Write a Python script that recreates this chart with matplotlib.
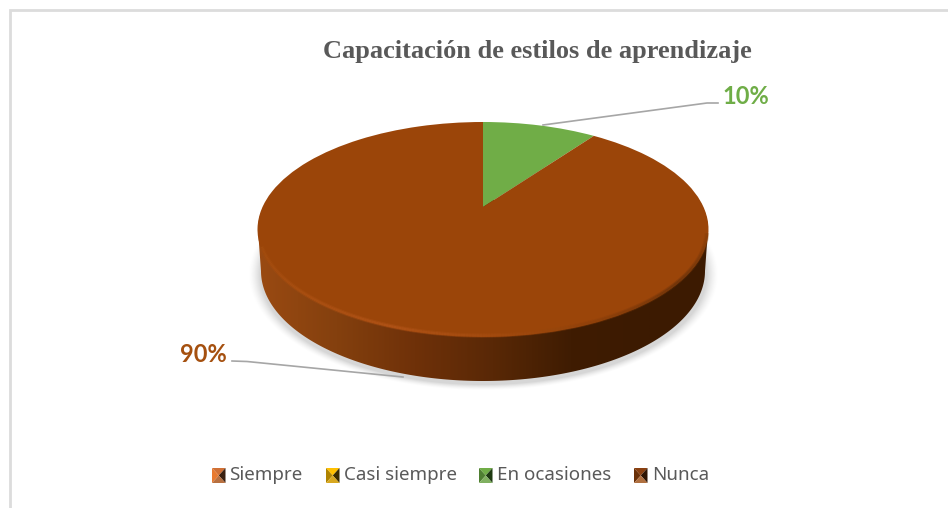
from matplotlib import pyplot as plt
from matplotlib.colors import LinearSegmentedColormap
from matplotlib.transforms import Transform
import numpy as np

# pie values and labels
categories = ['Siempre', 'Casi siempre', 'En ocasiones', 'Nunca']
values = [0, 0, 10, 90]
colors = ['#ED7D31', '#FFC000', '#70AD47', '#9B4509']
title = 'Capacitación de estilos de aprendizaje'


# the pie is tilted, so the centre of the circle sits above the centre of the ellipse
class Tilt(Transform):
    input_dims = 2
    output_dims = 2
    is_affine = False

    def transform_non_affine(self, values):
        u, v = np.asarray(values).T
        w = 1 + 0.2093 * v
        return np.column_stack([483 + 220.5 * u / w, (207 - 59.47 * v) / w])


fig = plt.figure(figsize=(9.48, 5.08), dpi=100)
ax = fig.add_axes([0, 0, 1, 1])

wedges, _ = ax.pie(values, colors=colors, startangle=90, counterclock=False, frame=True)
tilt = Tilt() + ax.transData
for w in wedges:
    w.set_transform(tilt)
    w.set_zorder(5)
    w.set_linewidth(0)

# soft shadow under the pie
yy, xx = np.mgrid[0:508, 0:948]
r = np.hypot((xx - 483) / 223, (yy - 274) / 110)
shadow = np.zeros((508, 948, 4))
shadow[..., :3] = 0.55
shadow[..., 3] = 0.36 * np.clip(1 - (r - 1) * 220 / 12, 0, 1) ** 1.5
ax.imshow(shadow, extent=(0, 948, 508, 0), aspect='auto', zorder=1)

# side wall of the pie, gradient clipped to its outline
t_low = np.linspace(np.pi, 0, 200)
t_up = np.linspace(0, np.pi, 200)
wall_x = np.r_[483 - 222 * np.cos(t_low), 483 - 225 * np.cos(t_up)]
wall_y = np.r_[271 + 110 * np.sin(t_low), 230 - 107 * np.sin(t_up)]
wall_cmap = LinearSegmentedColormap.from_list(
    'wall', ['#9a4a12', '#84400e', '#6f3109', '#592806', '#3f1c02', '#3c1a01'])
grad = np.linspace(0, 1, 256).reshape(1, -1)
wall = ax.imshow(grad, cmap=wall_cmap, extent=(258, 650, 400, 200), aspect='auto', zorder=2)
wall_right = ax.imshow(np.zeros((1, 2)), cmap=LinearSegmentedColormap.from_list('d', ['#3c1a01', '#3c1a01']),
                       extent=(650, 720, 400, 200), aspect='auto', zorder=2)
outline, = ax.fill(wall_x, wall_y, color='none', zorder=2)
wall.set_clip_path(outline)
wall_right.set_clip_path(outline)

# bevel along the front edge of the top face, a wide faint stroke and a narrower one
t = np.linspace(0.16, np.pi - 0.03, 240)
rim_x = 483 - 224 * np.cos(t)
rim_y = 230 + 105.5 * np.sin(t)
rim_cmap = LinearSegmentedColormap.from_list(
    'rim', ['#a44e10', '#ad5214', '#b5561a', '#a54c10', '#8a3f0a', '#64300a', '#8a4008'])
for lw, alpha in [(3.2, 0.35), (1.6, 0.6)]:
    for i in range(len(t) - 1):
        ax.plot(rim_x[i:i + 2], rim_y[i:i + 2], color=rim_cmap(i / 238), lw=lw,
                alpha=alpha, solid_capstyle='butt', zorder=6)

# leader lines
ax.plot([543, 707, 718], [125, 103, 103], color='#a6a6a6', lw=1.2, zorder=7)
ax.plot([232, 247, 403], [361, 361.5, 377], color='#a6a6a6', lw=1.2, zorder=7)

# data labels
ax.text(745.5, 96, f'{values[2]}%', color='#6FAD47', fontsize=17, fontweight='bold',
        family='Lato', ha='center', va='center', zorder=8)
ax.text(203, 355, f'{values[3]}%', color='#A5500F', fontsize=17, fontweight='bold',
        family='Lato', ha='center', va='center', zorder=8)

# title
ax.text(537.5, 51.5, title, color='#595959', fontsize=19, fontweight='bold',
        family='Liberation Serif', ha='center', va='center')

# legend, pyramid shaped swatches
swatch_x = [212, 326, 479, 634]
text_x = [229.5, 344, 497.5, 652]
swatch_shades = [
    ['#D07035', '#E87A30', '#3A2010', '#B87040'],
    ['#FFC000', '#B08400', '#3A2C00', '#D8A820'],
    ['#70AD47', '#4F7F32', '#1E3A12', '#80B060'],
    ['#8A4010', '#6A3008', '#2E1503', '#B07040'],
]
for sx, tx, name, shade in zip(swatch_x, text_x, categories, swatch_shades):
    left, right, top, bot = sx, sx + 13.5, 468, 483
    cx, cy = sx + 6.75, 475.5
    ax.fill([left, right, cx], [top, top, cy], color=shade[0], lw=0)
    ax.fill([left, left, cx], [top, bot, cy], color=shade[1], lw=0)
    ax.fill([right, right, cx], [top, bot, cy], color=shade[2], lw=0)
    ax.fill([left, right, cx], [bot, bot, cy], color=shade[3], lw=0)
    ax.text(tx, 475, name, color='#595959', fontsize=13.5, family='Noto Sans', ha='left', va='center')

# grey frame, only top and left are visible
ax.plot([10, 10, 948], [508, 9.5, 9.5], color='#dcdcdc', lw=2, solid_joinstyle='miter')

ax.set_autoscale_on(False)
ax.set_aspect('auto')
ax.set_xlim(0, 948)
ax.set_ylim(508, 0)
ax.set_xticks([])
ax.set_yticks([])
ax.set_frame_on(False)

fig.savefig('out.png', dpi=100)
